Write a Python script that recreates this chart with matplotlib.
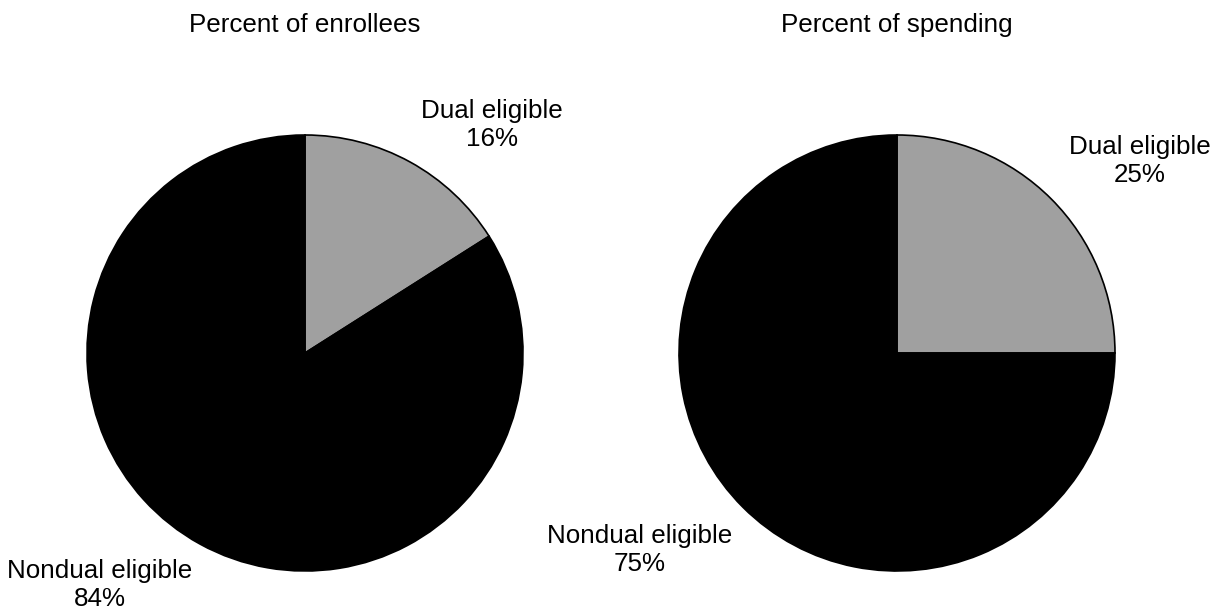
import matplotlib
matplotlib.use("Agg")
import matplotlib.pyplot as plt

titles = ["Percent of enrollees", "Percent of spending"]
categories = ["Dual eligible", "Nondual eligible"]
enrollees = [16, 84]
spending = [25, 75]
colors = ["#a0a0a0", "#000000"]

plt.rcParams['font.family'] = ['Liberation Sans', 'DejaVu Sans']

W, H = 1214, 610
fig = plt.figure(figsize=(W / 100, H / 100), dpi=100)
ax = fig.add_axes([0, 0, 1, 1])
ax.set_xlim(0, W)
ax.set_ylim(0, H)
ax.set_aspect('equal')
ax.axis('off')

centers = [(305, H - 353), (897, H - 353)]
radius = 218
label_pos = [
    [(492, H - 125), (100, H - 585)],
    [(1140, H - 161), (640, H - 550)],
]
title_pos = [(305, H - 25), (897, H - 25)]

for vals, c, lp, t, tp in zip([enrollees, spending], centers, label_pos, titles, title_pos):
    ax.pie(vals, colors=colors, startangle=90, counterclock=False,
           center=c, radius=radius, frame=True,
           wedgeprops=dict(edgecolor='black', linewidth=1.2))
    for cat, v, p in zip(categories, vals, lp):
        ax.text(p[0], p[1], f"{cat}\n{v}%", ha='center', va='center',
                fontsize=18.7, linespacing=1.2, multialignment='center')
    ax.text(tp[0], tp[1], t, ha='center', va='center', fontsize=18.7)

ax.set_xlim(0, W)
ax.set_ylim(0, H)
ax.axis('off')
fig.savefig("out.png", dpi=100)
